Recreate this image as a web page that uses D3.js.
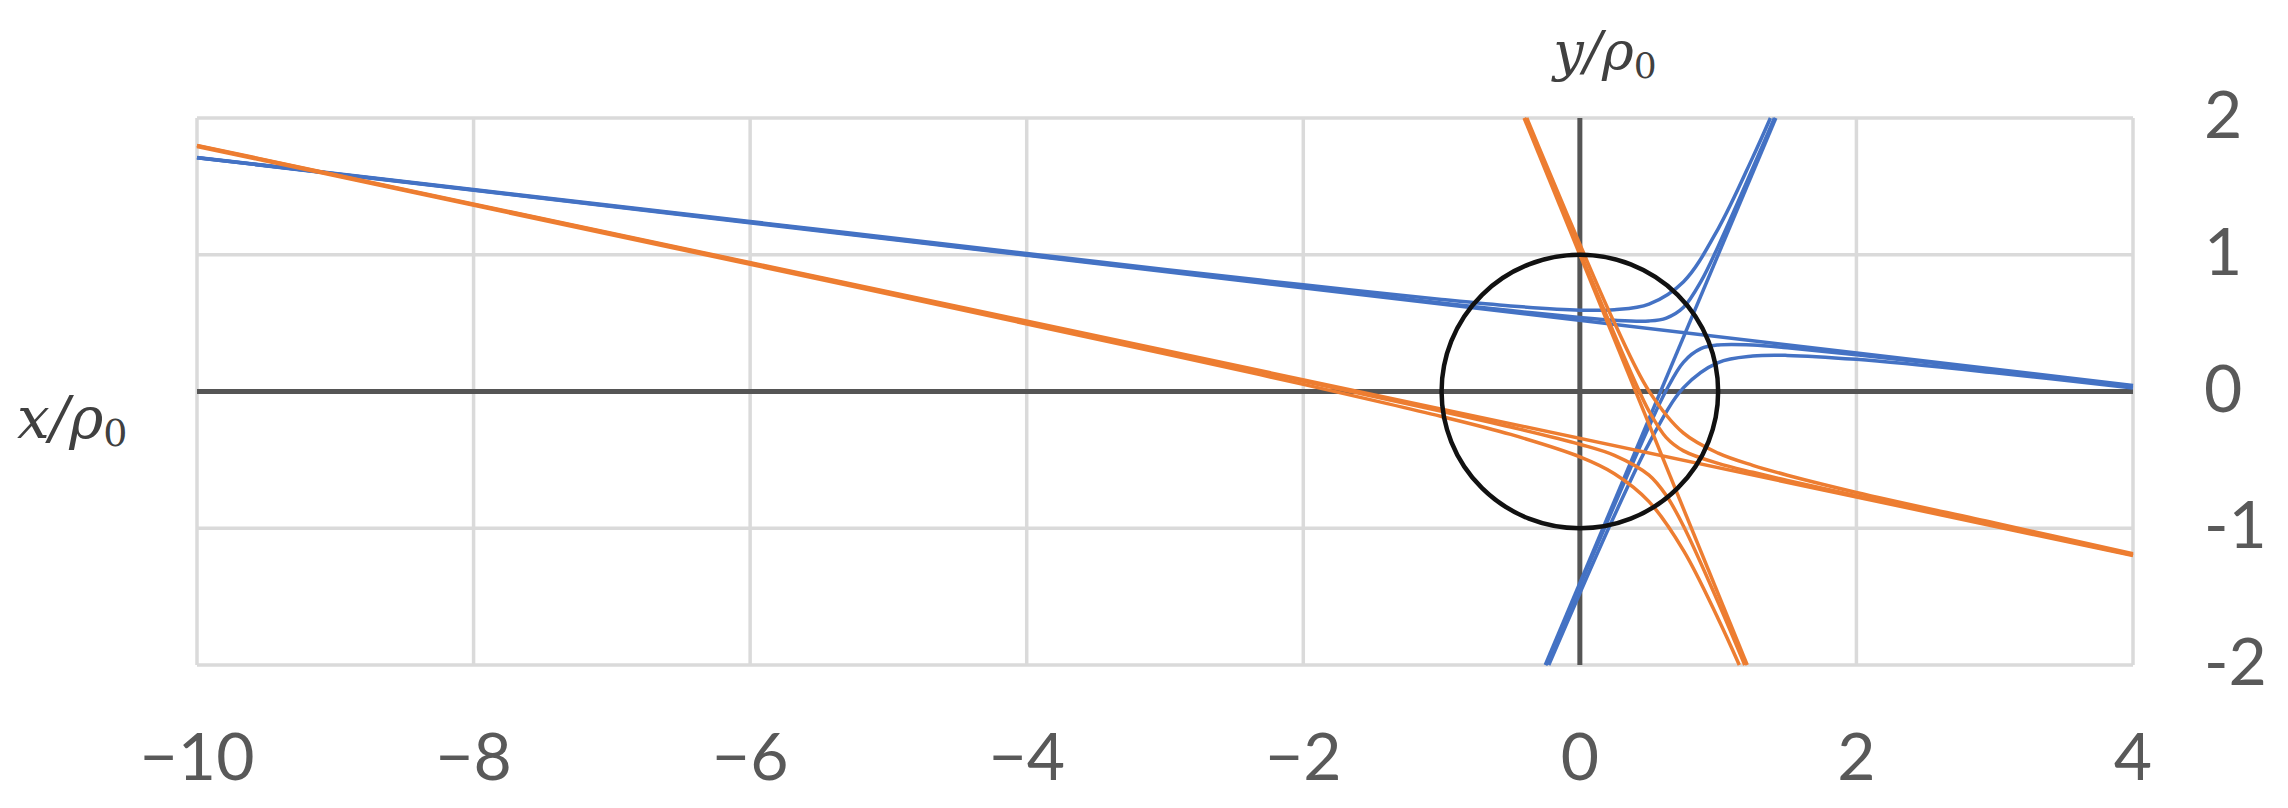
<!DOCTYPE html>
<html>
<head>
<meta charset="utf-8">
<script src="https://cdn.jsdelivr.net/npm/d3@7"></script>
<style>
  body { margin: 0; background: #fff; }
  svg { display: block; }
</style>
</head>
<body>
<div id="chart"></div>
<script>
// axis ticks
var xTicks = [-10, -8, -6, -4, -2, 0, 2, 4];
var xTickLabels = ['\u221210', '\u22128', '\u22126', '\u22124', '\u22122', '0', '2', '4'];
var yTicks = [2, 1, 0, -1, -2];
var yTickLabels = ['2', '1', '0', '-1', '-2'];

// blue series (x, y)
var blueShallow = [[-10, 1.71], [4, 0.044]];
var blueSteep = [[-0.25, -2], [1.417, 2]];
var blueUpperWide = [[-10, 1.711], [-6, 1.243], [-3, 0.893], [-2, 0.78], [-1, 0.673], [-0.5, 0.626], [0, 0.595],
  [0.25, 0.598], [0.5, 0.639], [0.75, 0.803], [1.0, 1.19], [1.25, 1.712], [1.378, 2]];
var blueUpperNarrow = [[-10, 1.71], [-6, 1.238], [-3, 0.882], [-2, 0.764], [-1, 0.648], [-0.5, 0.592], [0, 0.541],
  [0.25, 0.521], [0.5, 0.516], [0.625, 0.537], [0.75, 0.616], [0.875, 0.803], [1.0, 1.061], [1.25, 1.632], [1.407, 2]];
var blueLowerWide = [[-0.225, -2], [0, -1.475], [0.25, -0.907], [0.5, -0.379], [0.75, 0.028], [1.0, 0.211],
  [1.25, 0.259], [1.5, 0.264], [2, 0.235], [3, 0.137], [4, 0.026]];
var blueLowerNarrow = [[-0.244, -2], [0, -1.421], [0.25, -0.83], [0.5, -0.256], [0.625, 0.009], [0.75, 0.215],
  [0.875, 0.313], [1.0, 0.34], [1.25, 0.34], [1.5, 0.32], [2, 0.269], [3, 0.156], [4, 0.039]];

// orange series
var orangeShallow = [[-10, 1.8], [4, -1.2]];
var orangeSteep = [[-0.403, 2], [1.21, -2]];
var orangeUpperWide = [[-0.384, 2], [-0.25, 1.676], [0, 1.077], [0.25, 0.502], [0.5, 0.003], [0.75, -0.305],
  [1.0, -0.451], [1.25, -0.54], [1.5, -0.612], [2, -0.738], [3, -0.962], [4, -1.186]];
var orangeUpperNarrow = [[-0.398, 2], [-0.25, 1.636], [0, 1.022], [0.25, 0.417], [0.4, 0.068], [0.5, -0.143],
  [0.625, -0.337], [0.75, -0.434], [1.0, -0.526], [1.25, -0.591], [1.5, -0.65], [2, -0.762], [3, -0.976], [4, -1.196]];
var orangeLowerWide = [[-10, 1.792], [-6, 0.93], [-3, 0.276], [-2, 0.052], [-1, -0.183], [-0.5, -0.314], [0, -0.478],
  [0.25, -0.601], [0.5, -0.805], [0.75, -1.163], [1.0, -1.661], [1.153, -2]];
var orangeLowerNarrow = [[-10, 1.798], [-6, 0.938], [-3, 0.293], [-2, 0.075], [-1, -0.145], [-0.5, -0.26], [0, -0.386],
  [0.25, -0.467], [0.5, -0.612], [0.625, -0.761], [0.75, -0.985], [1.0, -1.541], [1.1925, -2]];

var blueSeries = [blueShallow, blueSteep, blueUpperWide, blueUpperNarrow, blueLowerWide, blueLowerNarrow];
var orangeSeries = [orangeShallow, orangeSteep, orangeUpperWide, orangeUpperNarrow, orangeLowerWide, orangeLowerNarrow];

var width = 2288, height = 808;
var margin = { top: 118, right: 155, bottom: 143, left: 197 };

var svg = d3.select('#chart').append('svg')
  .attr('width', width).attr('height', height);

var x = d3.scaleLinear().domain([-10, 4]).range([margin.left, width - margin.right]);
var y = d3.scaleLinear().domain([-2, 2]).range([height - margin.bottom, margin.top]);

svg.append('defs').append('clipPath').attr('id', 'plotclip')
  .append('rect')
  .attr('x', x(-10) - 2).attr('y', y(2) - 2)
  .attr('width', x(4) - x(-10) + 4).attr('height', y(-2) - y(2) + 4);

// gridlines
var grid = svg.append('g');
grid.selectAll('.vg').data(xTicks).enter().append('line')
  .attr('x1', d => x(d)).attr('x2', d => x(d))
  .attr('y1', y(2)).attr('y2', y(-2))
  .style('stroke', '#dadada').style('stroke-width', 3.5);
grid.selectAll('.hg').data(yTicks).enter().append('line')
  .attr('x1', x(-10)).attr('x2', x(4))
  .attr('y1', d => y(d)).attr('y2', d => y(d))
  .style('stroke', '#dadada').style('stroke-width', 3.5);

// zero axes
svg.append('line').attr('x1', x(-10)).attr('x2', x(4)).attr('y1', y(0)).attr('y2', y(0))
  .style('stroke', '#555').style('stroke-width', 5);
svg.append('line').attr('x1', x(0)).attr('x2', x(0)).attr('y1', y(2)).attr('y2', y(-2))
  .style('stroke', '#555').style('stroke-width', 5);

var line = d3.line()
  .x(d => x(d[0]))
  .y(d => y(d[1]))
  .curve(d3.curveCatmullRom.alpha(0.5));

var series = svg.append('g').attr('clip-path', 'url(#plotclip)');
series.selectAll('.blue').data(blueSeries).enter().append('path')
  .attr('d', line)
  .style('fill', 'none').style('stroke', '#4472c4').style('stroke-width', 3.5);
series.selectAll('.orange').data(orangeSeries).enter().append('path')
  .attr('d', line)
  .style('fill', 'none').style('stroke', '#ed7d31').style('stroke-width', 3.5);

// unit circle
svg.append('ellipse')
  .attr('cx', x(0)).attr('cy', y(0))
  .attr('rx', x(1) - x(0)).attr('ry', y(0) - y(1))
  .style('fill', 'none').style('stroke', '#111').style('stroke-width', 4.5);

// tick labels
svg.selectAll('.xl').data(xTicks).enter().append('text')
  .attr('x', d => x(d)).attr('y', 780)
  .style('text-anchor', 'middle')
  .style('font-family', 'Lato, sans-serif').style('font-size', '66px').style('fill', '#595959')
  .text((d, i) => xTickLabels[i]);
svg.selectAll('.yl').data(yTicks).enter().append('text')
  .attr('x', 2204).attr('y', d => y(d) + 20)
  .style('text-anchor', 'start')
  .style('font-family', 'Lato, sans-serif').style('font-size', '66px').style('fill', '#595959')
  .text((d, i) => yTickLabels[i]);

// axis titles
var yt = svg.append('text').attr('x', 1605).attr('y', 70)
  .style('text-anchor', 'middle')
  .style('font-family', '"DejaVu Serif", serif').style('font-style', 'italic')
  .style('font-size', '54px').style('fill', '#404040');
yt.append('tspan').text('y/\u03c1');
yt.append('tspan').attr('dy', 8).style('font-size', '36px').style('font-style', 'normal').text('0');

var xt = svg.append('text').attr('x', 17).attr('y', 438)
  .style('text-anchor', 'start')
  .style('font-family', '"DejaVu Serif", serif').style('font-style', 'italic')
  .style('font-size', '58px').style('fill', '#404040');
xt.append('tspan').text('x/\u03c1');
xt.append('tspan').attr('dy', 8).style('font-size', '38px').style('font-style', 'normal').text('0');
</script>
</body>
</html>
